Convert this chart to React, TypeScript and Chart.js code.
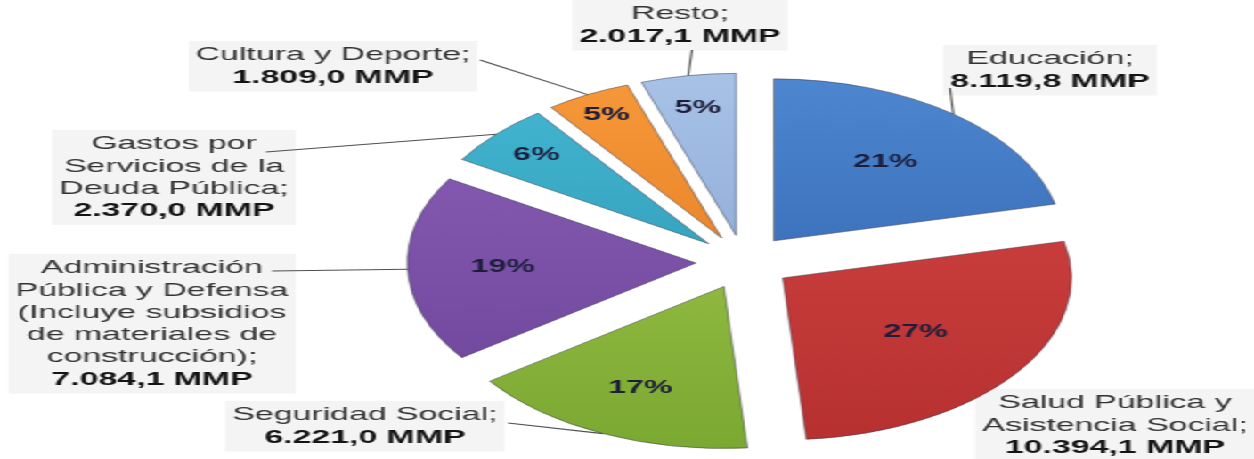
import { useEffect, useRef } from "react";
import { Chart, ArcElement, PieController } from "chart.js";

Chart.register(ArcElement, PieController);

// ---- data ----
const CATEGORIES = [
  "Educación",
  "Salud Pública y Asistencia Social",
  "Seguridad Social",
  "Administración Pública y Defensa (Incluye subsidios de materiales de construcción)",
  "Gastos por Servicios de la Deuda Pública",
  "Cultura y Deporte",
  "Resto",
];
const VALUES = [8119.8, 10394.1, 6221.0, 7084.1, 2370.0, 1809.0, 2017.1];
const PERCENT_LABELS = ["21%", "27%", "17%", "19%", "6%", "5%", "5%"];
const NAME_LINES = [
  ["Educación;"],
  ["Salud Pública y", "Asistencia Social;"],
  ["Seguridad Social;"],
  ["Administración", "Pública y Defensa", "(Incluye subsidios", "de materiales de", "construcción);"],
  ["Gastos por", "Servicios de la", "Deuda Pública;"],
  ["Cultura y Deporte;"],
  ["Resto;"],
];
const UNIT = "MMP";

// ---- styling / layout ----
const CANVAS_W = 704;
const CANVAS_H = 459;
const K = 1254 / CANVAS_W; // horizontal stretch of the whole picture
const RADIUS = 162;
const EXPLODE = 27;
const COLORS: [string, string][] = [
  ["#5089d3", "#2c5ea8"],
  ["#d54645", "#b52f2f"],
  ["#a4ca4e", "#78a630"],
  ["#8b61b8", "#6a4296"],
  ["#45bad5", "#2a8fab"],
  ["#f89c3c", "#df721c"],
  ["#abc5e8", "#7f9ecf"],
];
// label anchors in picture pixels (x = centre of text block, y = first line centre)
const LABEL_POS: { x: number; y: number; lead: [number, number] | null }[] = [
  { x: 1050, y: 59, lead: [950, 88] },
  { x: 1115, y: 403, lead: null },
  { x: 365, y: 415, lead: [508, 423] },
  { x: 152, y: 268, lead: [272, 271] },
  { x: 174, y: 144, lead: [266, 152] },
  { x: 333, y: 55, lead: [480, 60] },
  { x: 680, y: 14, lead: [692, 50] },
];
const PCT_RADIUS = [0.62, 0.57, 0.69, 0.67, 0.81, 0.86, 0.8];
const LINE_H = 22.3;
const FONT = '"Liberation Sans", Arial, sans-serif';

function formatValue(v: number): string {
  const [i, d] = v.toFixed(1).split(".");
  const grouped = i.replace(/\B(?=(\d{3})+(?!\d))/g, ".");
  return `${grouped},${d} ${UNIT}`;
}

function labelLines(i: number): string[] {
  return [...NAME_LINES[i], formatValue(VALUES[i])];
}

function setFont(ctx: CanvasRenderingContext2D, bold: boolean) {
  ctx.font = (bold ? "bold " : "") + `19px ${FONT}`;
}

const explodePlugin = {
  id: "explode",
  beforeDatasetsDraw(chart: any) {
    // faint boxes behind the outside labels
    const ctx = chart.ctx;
    ctx.save();
    LABEL_POS.forEach((pos, i) => {
      const lines = labelLines(i);
      let maxW = 0;
      lines.forEach((t, j) => {
        setFont(ctx, j === lines.length - 1);
        maxW = Math.max(maxW, ctx.measureText(t).width);
      });
      const cx = pos.x / K;
      ctx.fillStyle = "#f4f4f4";
      ctx.fillRect(cx - maxW / 2 - 4, pos.y - LINE_H / 2 - 3, maxW + 8, LINE_H * lines.length + 6);
    });
    ctx.restore();
  },
  beforeDatasetDraw(chart: any, args: any) {
    const ctx = chart.ctx;
    args.meta.data.forEach((el: any) => {
      const mid = (el.startAngle + el.endAngle) / 2;
      ctx.save();
      ctx.translate(Math.cos(mid) * EXPLODE, Math.sin(mid) * EXPLODE);
      el.draw(ctx);
      ctx.restore();
    });
    return false;
  },
};

const labelPlugin = {
  id: "sliceLabels",
  afterDatasetsDraw(chart: any) {
    const ctx = chart.ctx;
    const meta = chart.getDatasetMeta(0);
    ctx.save();
    ctx.textAlign = "center";
    ctx.textBaseline = "middle";
    meta.data.forEach((el: any, i: number) => {
      const mid = (el.startAngle + el.endAngle) / 2;
      const ax = el.x + Math.cos(mid) * EXPLODE;
      const ay = el.y + Math.sin(mid) * EXPLODE;
      // percent label
      const pr = el.outerRadius * PCT_RADIUS[i];
      ctx.font = `bold 18px ${FONT}`;
      ctx.fillStyle = "#1d1d3a";
      ctx.fillText(PERCENT_LABELS[i], ax + Math.cos(mid) * pr, ay + Math.sin(mid) * pr);

      // outside label
      const pos = LABEL_POS[i];
      const lines = labelLines(i);
      const cx = pos.x / K;
      lines.forEach((t, j) => {
        const last = j === lines.length - 1;
        setFont(ctx, last);
        ctx.fillStyle = last ? "#141414" : "#333333";
        ctx.fillText(t, cx, pos.y + j * LINE_H);
      });
      if (pos.lead) {
        const ex = ax + Math.cos(mid) * el.outerRadius;
        const ey = ay + Math.sin(mid) * el.outerRadius;
        ctx.beginPath();
        ctx.moveTo(pos.lead[0] / K, pos.lead[1]);
        ctx.lineTo(ex, ey);
        ctx.strokeStyle = "#505050";
        ctx.lineWidth = 1.1;
        ctx.stroke();
      }
    });
    ctx.restore();
  },
};

export default function App() {
  const ref = useRef<HTMLCanvasElement | null>(null);
  useEffect(() => {
    if (!ref.current) return;
    const chart = new Chart(ref.current, {
      type: "pie",
      data: {
        labels: CATEGORIES,
        datasets: [
          {
            data: VALUES,
            radius: RADIUS,
            backgroundColor: (c: any) => {
              const [light, dark] = COLORS[c.dataIndex];
              const area = c.chart.chartArea;
              if (!area) return light;
              const cy = (area.top + area.bottom) / 2;
              const g = c.chart.ctx.createLinearGradient(0, cy - RADIUS - EXPLODE, 0, cy + RADIUS + EXPLODE);
              g.addColorStop(0, light);
              g.addColorStop(1, dark);
              return g;
            },
            borderColor: "rgba(40,40,60,0.45)",
            borderWidth: 1,
          } as any,
        ],
      },
      options: {
        responsive: true,
        maintainAspectRatio: false,
        animation: false,
        layout: { padding: { left: 131.4, right: 0, top: 65, bottom: 0 } },
        plugins: { legend: { display: false }, tooltip: { enabled: false } },
        events: [],
      } as any,
      plugins: [explodePlugin, labelPlugin],
    });
    return () => chart.destroy();
  }, []);
  return (
    <div
      style={{
        position: "fixed",
        left: 0,
        top: 0,
        width: CANVAS_W,
        height: CANVAS_H,
        transform: `scaleX(${K})`,
        transformOrigin: "0 0",
        background: "#fff",
      }}
    >
      <canvas ref={ref} />
    </div>
  );
}
